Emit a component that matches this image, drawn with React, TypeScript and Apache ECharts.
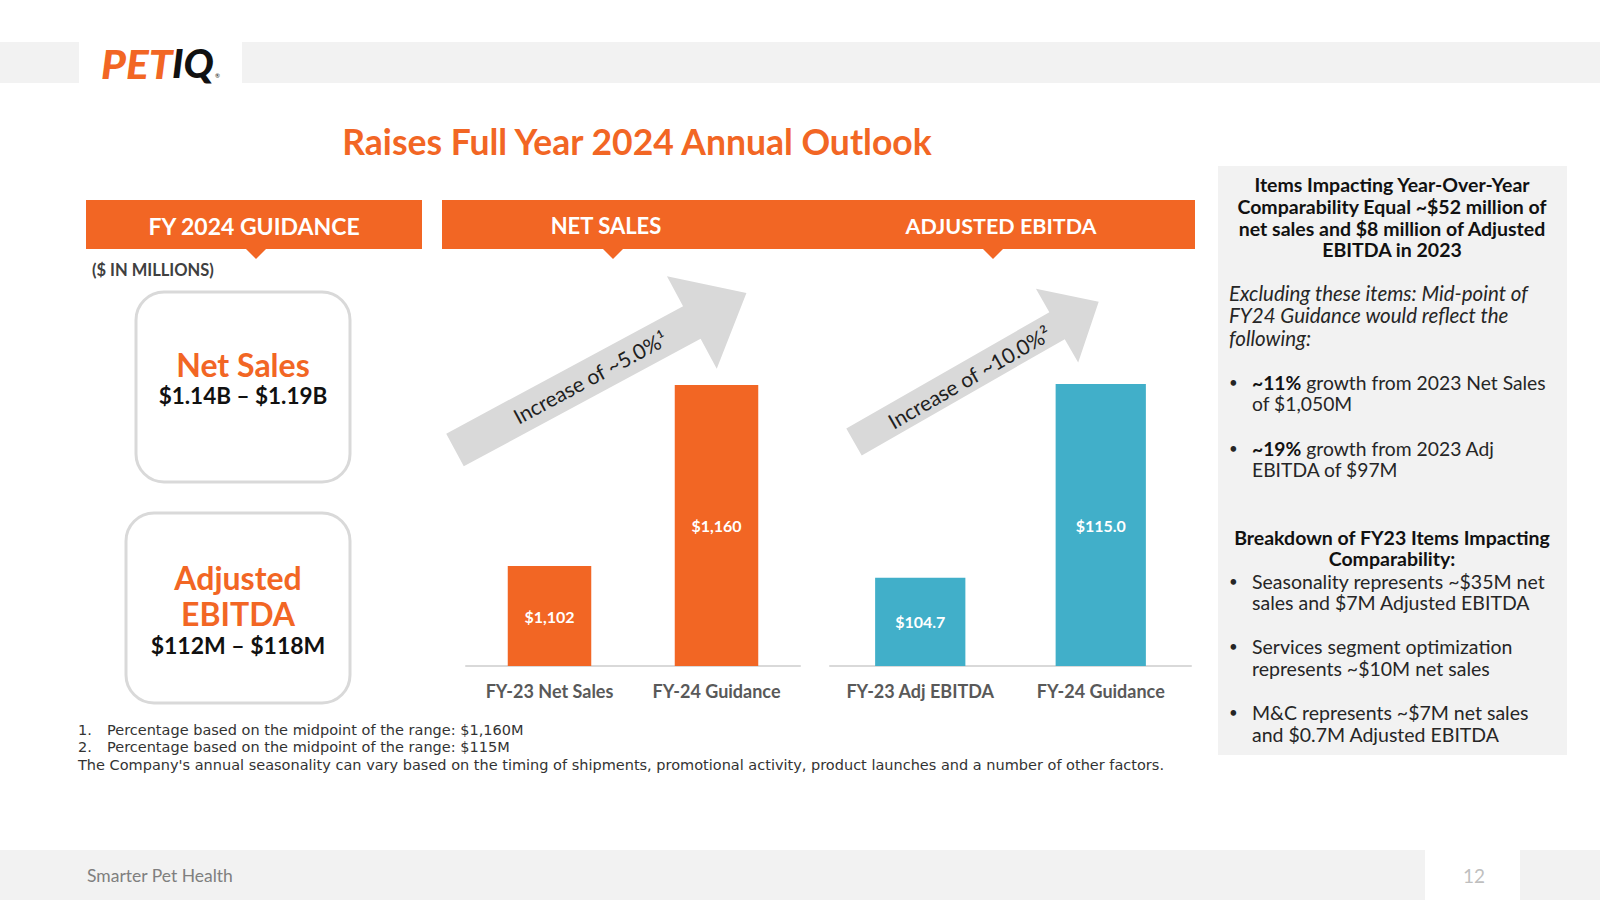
import React, { useEffect, useRef } from 'react';
import * as echarts from 'echarts';

// ---------- data ----------
const netSalesCategories = ['FY-23 Net Sales', 'FY-24 Guidance'];
const netSalesValues = [1102, 1160];
const ebitdaCategories = ['FY-23 Adj EBITDA', 'FY-24 Guidance'];
const ebitdaValues = [104.7, 115.0];

const titleText = 'Raises Full Year 2024 Annual Outlook';
const headerTexts = ['FY 2024 GUIDANCE', 'NET SALES', 'ADJUSTED EBITDA'];
const guidanceNetSales = ['Net Sales', '$1.14B – $1.19B'];
const guidanceEbitda = ['Adjusted', 'EBITDA', '$112M – $118M'];
const arrowTexts = ['Increase of ~5.0%¹', 'Increase of ~10.0%²'];
const panelTitle = ['Items Impacting Year-Over-Year', 'Comparability Equal ~$52 million of', 'net sales and $8 million of Adjusted', 'EBITDA in 2023'];
const panelItalic = ['Excluding these items: Mid-point of', 'FY24 Guidance would reflect the', 'following:'];
const growthBullets = [
  ['~11%', ' growth from 2023 Net Sales', 'of $1,050M'],
  ['~19%', ' growth from 2023 Adj', 'EBITDA of $97M'],
];
const breakdownTitle = ['Breakdown of FY23 Items Impacting', 'Comparability:'];
const breakdownBullets = [
  ['Seasonality represents ~$35M net', 'sales and $7M Adjusted EBITDA'],
  ['Services segment optimization', 'represents ~$10M net sales'],
  ['M&C represents ~$7M net sales', 'and $0.7M Adjusted EBITDA'],
];
const footnotes = [
  ['1.', 'Percentage based on the midpoint of the range: $1,160M'],
  ['2.', 'Percentage based on the midpoint of the range: $115M'],
];
const disclaimer = "The Company's annual seasonality can vary based on the timing of shipments, promotional activity, product launches and a number of other factors.";
const footerText = 'Smarter Pet Health';
const pageNumber = '12';

// ---------- style ----------
const ORANGE = '#F26624';
const TEAL = '#41AFC9';
const FONT = 'Lato, "DejaVu Sans", sans-serif';
const WIDE = '"DejaVu Sans", Lato, sans-serif';
const PANEL = '#F2F2F2';

function arrowPoints(tx: number, ty: number, angDeg: number, len: number, shaftW: number, headW: number, headL: number) {
  const a = (angDeg * Math.PI) / 180;
  const ux = Math.cos(a), uy = Math.sin(a);
  const px = -uy, py = ux;
  const P = (s: number, t: number) => [tx + ux * s + px * t, ty + uy * s + py * t];
  const b = len - headL;
  return [P(0, -shaftW / 2), P(b, -shaftW / 2), P(b, -headW / 2), P(len, 0), P(b, headW / 2), P(b, shaftW / 2), P(0, shaftW / 2)];
}

function txt(text: string, x: number, y: number, o: any = {}) {
  return {
    type: 'text',
    x,
    y,
    z: 50,
    rotation: o.rotation || 0,
    scaleX: o.scaleX || 1,
    style: {
      text,
      fill: o.fill || '#262626',
      fontSize: o.fontSize || 18,
      fontWeight: o.fontWeight || 'normal',
      fontStyle: o.fontStyle || 'normal',
      fontFamily: o.fontFamily || FONT,
      textAlign: o.align || 'left',
      textVerticalAlign: 'middle',
      rich: o.rich,
    },
  };
}

export default function App() {
  const ref = useRef<HTMLDivElement>(null);

  useEffect(() => {
    document.body.style.margin = '0';
    const chart = echarts.init(ref.current!, undefined, { renderer: 'svg' });

    const graphic: any[] = [];
    // top band
    graphic.push({ type: 'rect', shape: { x: 0, y: 42, width: 79, height: 41 }, style: { fill: PANEL } });
    graphic.push({ type: 'rect', shape: { x: 242, y: 42, width: 1358, height: 41 }, style: { fill: PANEL } });
    // logo
    graphic.push(txt('PET', 101, 63, { fill: ORANGE, fontSize: 40, fontWeight: 900, fontStyle: 'italic', scaleX: 1.06 }));
    graphic.push(txt('IQ', 172, 63, { fill: '#111', fontSize: 40, fontWeight: 900, fontStyle: 'italic' }));
    graphic.push(txt('®', 215, 75, { fill: '#111', fontSize: 6 }));
    // title
    graphic.push(txt(titleText, 637, 141, { fill: ORANGE, fontSize: 35.5, fontWeight: 'bold', align: 'center' }));

    // headers
    graphic.push({ type: 'rect', shape: { x: 86, y: 200, width: 336, height: 49 }, style: { fill: ORANGE } });
    graphic.push({ type: 'rect', shape: { x: 442, y: 200, width: 753, height: 49 }, style: { fill: ORANGE } });
    [256, 613, 993].forEach((cx) => {
      graphic.push({ type: 'polygon', shape: { points: [[cx - 11, 248], [cx + 11, 248], [cx, 259]] }, style: { fill: ORANGE } });
    });
    graphic.push(txt(headerTexts[0], 254, 226, { fill: '#fff', fontSize: 23, fontWeight: 'bold', align: 'center' }));
    graphic.push(txt(headerTexts[1], 606, 225, { fill: '#fff', fontSize: 22, fontWeight: 'bold', align: 'center' }));
    graphic.push(txt(headerTexts[2], 1001, 226, { fill: '#fff', fontSize: 21.5, fontWeight: 'bold', align: 'center' }));
    graphic.push(txt('($ IN MILLIONS)', 92, 270, { fill: '#404040', fontSize: 16.5, fontWeight: 'bold' }));

    // guidance boxes
    graphic.push({ type: 'rect', shape: { x: 136, y: 292, width: 214, height: 190, r: 28 }, style: { fill: '#fff', stroke: '#D9D9D9', lineWidth: 3 } });
    graphic.push({ type: 'rect', shape: { x: 126, y: 513, width: 224, height: 190, r: 28 }, style: { fill: '#fff', stroke: '#D9D9D9', lineWidth: 3 } });
    graphic.push(txt(guidanceNetSales[0], 243, 364, { fill: ORANGE, fontSize: 32, fontWeight: 'bold', align: 'center' }));
    graphic.push(txt(guidanceNetSales[1], 243, 395, { fill: '#111', fontSize: 22.5, fontWeight: 'bold', align: 'center' }));
    graphic.push(txt(guidanceEbitda[0], 238, 577, { fill: ORANGE, fontSize: 32, fontWeight: 'bold', align: 'center' }));
    graphic.push(txt(guidanceEbitda[1], 238, 613, { fill: ORANGE, fontSize: 32, fontWeight: 'bold', align: 'center' }));
    graphic.push(txt(guidanceEbitda[2], 238, 645, { fill: '#111', fontSize: 23, fontWeight: 'bold', align: 'center' }));

    // arrows
    graphic.push({ type: 'polygon', z: 5, shape: { points: arrowPoints(455, 450, -28.3, 331, 37, 105, 62) }, style: { fill: '#D9D9D9' } });
    graphic.push({ type: 'polygon', z: 5, shape: { points: arrowPoints(854, 442, -29.8, 282, 31, 85, 48) }, style: { fill: '#D9D9D9' } });
    graphic.push(txt(arrowTexts[0], 590, 377, { fontSize: 21, align: 'center', rotation: (28.3 * Math.PI) / 180, fill: '#1f1f1f' }));
    graphic.push(txt(arrowTexts[1], 969, 377, { fontSize: 21, align: 'center', rotation: (29.8 * Math.PI) / 180, fill: '#1f1f1f' }));

    // right panel
    graphic.push({ type: 'rect', shape: { x: 1218, y: 166, width: 349, height: 589 }, style: { fill: PANEL } });
    const tY = [184, 206, 228, 249];
    panelTitle.forEach((t, i) => graphic.push(txt(t, 1392, tY[i], { fontSize: 19.5, fontWeight: 'bold', align: 'center', fill: '#111' })));
    const iY = [293, 315, 338];
    panelItalic.forEach((t, i) => graphic.push(txt(t, 1229, iY[i], { fontSize: 20.5, fontStyle: 'italic', fill: '#262626' })));
    const gY = [[382, 403], [448, 469]];
    growthBullets.forEach((b, i) => {
      graphic.push(txt('•', 1229, gY[i][0], { fontSize: 15 }));
      graphic.push(txt(`{b|${b[0]}}${b[1]}`, 1252, gY[i][0], { fontSize: 19.3, rich: { b: { fontWeight: 'bold', fontSize: 19.3, fontFamily: FONT, fill: '#111' } } }));
      graphic.push(txt(b[2], 1252, gY[i][1], { fontSize: 19.3 }));
    });
    graphic.push(txt(breakdownTitle[0], 1392, 537, { fontSize: 19.5, fontWeight: 'bold', align: 'center', fill: '#111' }));
    graphic.push(txt(breakdownTitle[1], 1392, 558, { fontSize: 19.5, fontWeight: 'bold', align: 'center', fill: '#111' }));
    const bY = [[581, 602], [646, 668], [712, 734]];
    breakdownBullets.forEach((b, i) => {
      graphic.push(txt('•', 1229, bY[i][0], { fontSize: 15 }));
      graphic.push(txt(b[0], 1252, bY[i][0], { fontSize: 19.5 }));
      graphic.push(txt(b[1], 1252, bY[i][1], { fontSize: 19.5 }));
    });

    // footnotes
    footnotes.forEach((f, i) => {
      graphic.push(txt(f[0], 78, 730 + i * 17, { fontSize: 14.5, fill: '#333', fontFamily: WIDE }));
      graphic.push(txt(f[1], 107, 730 + i * 17, { fontSize: 14.5, fill: '#333', fontFamily: WIDE }));
    });
    graphic.push(txt(disclaimer, 78, 765, { fontSize: 14.5, fill: '#333', fontFamily: WIDE }));

    // footer
    graphic.push({ type: 'rect', shape: { x: 0, y: 850, width: 1425, height: 50 }, style: { fill: PANEL } });
    graphic.push({ type: 'rect', shape: { x: 1520, y: 850, width: 80, height: 50 }, style: { fill: PANEL } });
    graphic.push(txt(footerText, 87, 875, { fontSize: 17.5, fill: '#7F7F7F' }));
    graphic.push(txt(pageNumber, 1474, 875, { fontSize: 19, fill: '#BFBFBF', align: 'center' }));

    const axisCommon = {
      type: 'category',
      axisLine: { show: true, lineStyle: { color: '#D9D9D9', width: 2 } },
      axisTick: { show: false },
      axisLabel: { interval: 0, hideOverlap: false, color: '#595959', fontSize: 18, fontWeight: 'bold', fontFamily: FONT, margin: 16 },
    };

    chart.setOption({
      animation: false,
      textStyle: { fontFamily: FONT },
      grid: [
        { left: 466, width: 334, top: 260, height: 406 },
        { left: 830, width: 361, top: 260, height: 406 },
      ],
      xAxis: [
        { ...axisCommon, gridIndex: 0, data: netSalesCategories },
        { ...axisCommon, gridIndex: 1, data: ebitdaCategories },
      ],
      yAxis: [
        { type: 'value', gridIndex: 0, min: 1070, max: 1200, show: false, splitLine: { show: false } },
        { type: 'value', gridIndex: 1, min: 100, max: 121.6, show: false, splitLine: { show: false } },
      ],
      series: [
        {
          type: 'bar',
          xAxisIndex: 0,
          yAxisIndex: 0,
          data: netSalesValues,
          barWidth: '50%',
          itemStyle: { color: ORANGE },
          label: {
            show: true,
            position: 'inside',
            color: '#fff',
            fontSize: 16,
            fontWeight: 'bold',
            fontFamily: FONT,
            formatter: (p: any) => '$' + Number(p.value).toLocaleString('en-US'),
          },
        },
        {
          type: 'bar',
          xAxisIndex: 1,
          yAxisIndex: 1,
          data: ebitdaValues,
          barWidth: '50%',
          itemStyle: { color: TEAL },
          label: {
            show: true,
            position: 'inside',
            color: '#fff',
            fontSize: 16,
            fontWeight: 'bold',
            fontFamily: FONT,
            formatter: (p: any) => '$' + Number(p.value).toFixed(1),
          },
        },
      ],
      graphic,
    });

    return () => chart.dispose();
  }, []);

  return <div ref={ref} style={{ position: 'absolute', left: 0, top: 0, width: 1600, height: 900, background: '#fff' }} />;
}
